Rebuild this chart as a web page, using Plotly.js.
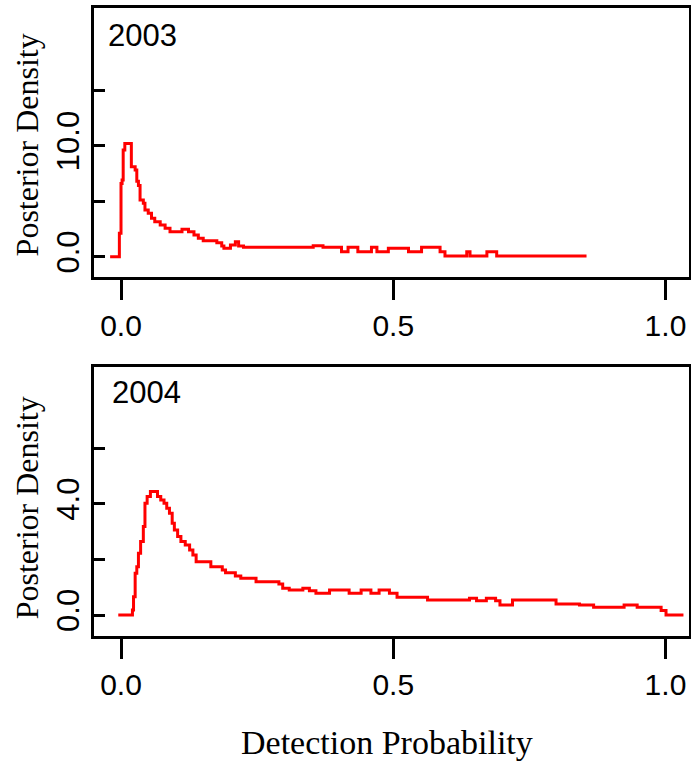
<!DOCTYPE html>
<html>
<head>
<meta charset="utf-8">
<script src="https://cdn.plot.ly/plotly-3.0.1.min.js"></script>
<style>html,body{margin:0;padding:0;background:#fff;}#chart{width:691px;height:762px;}</style>
</head>
<body>
<div id="chart"></div>
<script>
// 2003 posterior density (step curve)
var x2003 = [-0.02, -0.003, 0.0, 0.002, 0.004, 0.007, 0.019, 0.026, 0.029, 0.032, 0.035, 0.041, 0.044, 0.050, 0.056, 0.062, 0.072, 0.081, 0.090, 0.112, 0.124, 0.134, 0.142, 0.151, 0.176, 0.185, 0.189, 0.201, 0.210, 0.216, 0.225, 0.353, 0.371, 0.405, 0.417, 0.435, 0.460, 0.470, 0.491, 0.528, 0.552, 0.586, 0.595, 0.635, 0.641, 0.672, 0.690, 0.855];
var y2003 = [0.0, 2.1, 6.6, 6.9, 9.6, 10.2, 8.1, 7.8, 6.8, 6.4, 5.1, 4.8, 4.2, 3.9, 3.46, 3.15, 2.86, 2.56, 2.25, 2.47, 2.25, 1.95, 1.66, 1.44, 1.26, 0.96, 0.76, 1.05, 1.35, 0.96, 0.84, 0.99, 0.84, 0.45, 0.84, 0.45, 0.84, 0.45, 0.76, 0.45, 0.84, 0.45, 0.05, 0.45, 0.05, 0.45, 0.05, 0.05];

// 2004 posterior density (step curve)
var x2004 = [-0.005, 0.021, 0.023, 0.026, 0.029, 0.032, 0.036, 0.041, 0.044, 0.048, 0.054, 0.067, 0.073, 0.079, 0.084, 0.089, 0.094, 0.098, 0.104, 0.110, 0.118, 0.126, 0.132, 0.138, 0.165, 0.186, 0.192, 0.210, 0.220, 0.248, 0.290, 0.297, 0.309, 0.334, 0.346, 0.358, 0.383, 0.419, 0.441, 0.459, 0.474, 0.493, 0.507, 0.563, 0.640, 0.653, 0.671, 0.688, 0.696, 0.719, 0.799, 0.842, 0.868, 0.924, 0.948, 0.992, 1.001, 1.033];
var y2004 = [0.0, 0.18, 0.66, 1.5, 1.74, 2.22, 2.64, 3.18, 4.02, 4.26, 4.44, 4.26, 4.14, 4.02, 3.84, 3.66, 3.30, 3.06, 2.82, 2.64, 2.52, 2.34, 2.16, 1.92, 1.74, 1.62, 1.52, 1.40, 1.32, 1.20, 1.12, 0.96, 0.90, 0.96, 0.87, 0.78, 0.90, 0.78, 0.90, 0.78, 0.90, 0.78, 0.64, 0.54, 0.60, 0.51, 0.60, 0.51, 0.36, 0.54, 0.40, 0.36, 0.28, 0.36, 0.28, 0.16, 0.0, 0.0];

var xTickVals = [0, 0.5, 1.0];
var xTickText = ['0.0', '0.5', '1.0'];
var yTickVals2003 = [0, 5, 10, 15];
var yTickText2003 = ['0.0', '', '10.0', ''];
var yTickVals2004 = [0, 2, 4, 6];
var yTickText2004 = ['0.0', '', '4.0', ''];
var panelLabels = ['2003', '2004'];
var xTitle = 'Detection Probability';
var yTitle = 'Posterior Density';

var lineStyle = {color: '#ff0000', width: 3, shape: 'hv'};
var traces = [
  {x: x2003, y: y2003, type: 'scatter', mode: 'lines', line: lineStyle, xaxis: 'x', yaxis: 'y', hoverinfo: 'skip'},
  {x: x2004, y: y2004, type: 'scatter', mode: 'lines', line: lineStyle, xaxis: 'x2', yaxis: 'y2', hoverinfo: 'skip'}
];

var sansTick = {family: 'Liberation Sans, Arial, sans-serif', size: 30, color: '#000'};
var sansTickY = {family: 'Liberation Sans, Arial, sans-serif', size: 31, color: '#000'};
var serif = 'Liberation Serif, Times New Roman, serif';

function xAxis(anchor) {
  return {
    anchor: anchor, domain: [0, 1], range: [-0.0496, 1.0432],
    tickmode: 'array', tickvals: xTickVals, ticktext: xTickText,
    ticks: 'outside', ticklen: 20, tickwidth: 3, tickcolor: '#000',
    showline: true, linewidth: 3, linecolor: '#000', mirror: true,
    showgrid: false, zeroline: false, tickfont: sansTick, fixedrange: true
  };
}
function yAxis(anchor, domain, range, vals, text) {
  return {
    anchor: anchor, domain: domain, range: range,
    tickmode: 'array', tickvals: vals, ticktext: text, tickangle: -90,
    ticks: 'inside', ticklen: 11, tickwidth: 3, tickcolor: '#000',
    showline: true, linewidth: 3, linecolor: '#000', mirror: true,
    showgrid: false, zeroline: false, tickfont: sansTickY, fixedrange: true
  };
}

var layout = {
  width: 691, height: 762,
  margin: {l: 94, r: 2, t: 8, b: 126},
  paper_bgcolor: '#fff', plot_bgcolor: '#fff',
  showlegend: false,
  xaxis: xAxis('y'),
  yaxis: yAxis('x', [0.5717, 1], [-1.83, 22.4], yTickVals2003, yTickText2003),
  xaxis2: xAxis('y2'),
  yaxis2: yAxis('x2', [0, 0.4283], [-0.755, 8.92], yTickVals2004, yTickText2004),
  annotations: [
    {text: panelLabels[0], xref: 'paper', yref: 'paper', x: 0.021, y: 0.957, xanchor: 'left', yanchor: 'middle', showarrow: false, font: {family: 'Liberation Sans, Arial, sans-serif', size: 31, color: '#000'}},
    {text: panelLabels[1], xref: 'paper', yref: 'paper', x: 0.027, y: 0.3877, xanchor: 'left', yanchor: 'middle', showarrow: false, font: {family: 'Liberation Sans, Arial, sans-serif', size: 31, color: '#000'}},
    {text: yTitle, xref: 'paper', yref: 'paper', x: -0.112, y: 0.7818, xanchor: 'center', yanchor: 'middle', textangle: -90, showarrow: false, font: {family: serif, size: 32, color: '#000'}},
    {text: yTitle, xref: 'paper', yref: 'paper', x: -0.112, y: 0.2038, xanchor: 'center', yanchor: 'middle', textangle: -90, showarrow: false, font: {family: serif, size: 32, color: '#000'}},
    {text: xTitle, xref: 'paper', yref: 'paper', x: 0.4916, y: -0.1688, xanchor: 'center', yanchor: 'middle', showarrow: false, font: {family: serif, size: 34, color: '#000'}}
  ]
};

Plotly.newPlot('chart', traces, layout, {staticPlot: true, displayModeBar: false});
</script>
</body>
</html>
